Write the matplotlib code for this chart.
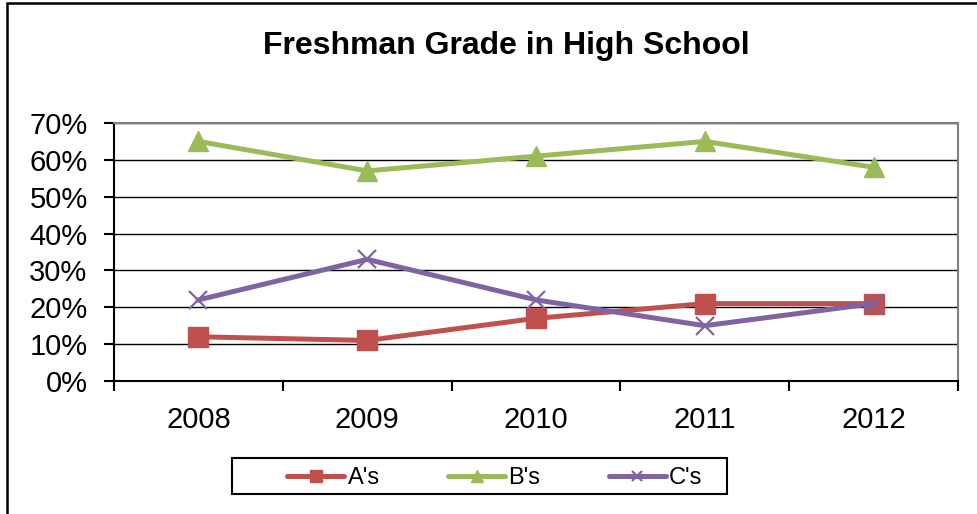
import matplotlib
matplotlib.use("Agg")
import matplotlib.pyplot as plt
from matplotlib.patches import Rectangle
from matplotlib.ticker import FixedLocator, FuncFormatter

# data
years = ["2008", "2009", "2010", "2011", "2012"]
a_grades = [0.12, 0.11, 0.17, 0.21, 0.21]
b_grades = [0.65, 0.57, 0.61, 0.65, 0.58]
c_grades = [0.22, 0.33, 0.22, 0.15, 0.21]

RED = "#C0504D"
GREEN = "#9BBB59"
PURPLE = "#8064A2"

plt.rcParams["font.family"] = ["Liberation Sans", "DejaVu Sans"]

W, H = 977, 514
fig = plt.figure(figsize=(W / 100, H / 100), dpi=100)

# outer chart border (only top and left are visible in the reference)
fig.patches.append(Rectangle((7 / W, -0.1), 1.2, 1.1 - 3 / H, transform=fig.transFigure,
                             fill=False, edgecolor="black", linewidth=1.8))
# legend box
fig.patches.append(Rectangle((232 / W, 1 - 494 / H), 495 / W, 36 / H, transform=fig.transFigure,
                             fill=False, edgecolor="black", linewidth=1.5))

left, right, top, bottom = 114, 958, 123, 381
ax = fig.add_axes([left / W, 1 - bottom / H, (right - left) / W, (bottom - top) / H])

x = list(range(len(years)))
ax.plot(x, a_grades, color=RED, lw=3.6, marker="s", ms=14, label="A's", zorder=3)
ax.plot(x, b_grades, color=GREEN, lw=3.6, marker="^", ms=15, label="B's", zorder=3)
ax.plot(x, c_grades, color=PURPLE, lw=3.6, marker="x", ms=13, mew=1.6, label="C's", zorder=3)

ax.set_xlim(-0.5, len(years) - 0.5)
ax.set_ylim(0, 0.7)
ax.set_yticks([i / 10 for i in range(8)])
ax.yaxis.set_major_formatter(FuncFormatter(lambda v, _: f"{round(v * 100)}%"))
ax.grid(axis="y", color="black", lw=1.0)
ax.set_axisbelow(True)

# category boundaries as ticks, labels in the centre
ax.xaxis.set_major_locator(FixedLocator([i - 0.5 for i in range(len(years) + 1)]))
ax.xaxis.set_major_formatter(FuncFormatter(lambda v, _: ""))
ax.set_xticks(x, minor=True)
ax.set_xticklabels(years, minor=True)
ax.tick_params(axis="x", which="minor", length=0, pad=18, labelsize=21)
ax.tick_params(axis="x", which="major", length=7, width=1.5, direction="out")
ax.tick_params(axis="y", length=7, width=1.5, direction="out", pad=12, labelsize=21)

for side in ("top", "right"):
    ax.spines[side].set_color("#808080")
    ax.spines[side].set_linewidth(1.5)
for side in ("left", "bottom"):
    ax.spines[side].set_color("black")
    ax.spines[side].set_linewidth(1.5)

fig.text(506 / W, 1 - 46 / H, "Freshman Grade in High School", ha="center", va="center",
         fontsize=23, fontweight="bold")

leg = ax.legend(loc="center", bbox_to_anchor=(495 / W, 1 - 478 / H),
                bbox_transform=fig.transFigure, ncol=3, fontsize=17,
                frameon=False, handlelength=2.4, handletextpad=0.15,
                columnspacing=2.9, borderaxespad=0, markerscale=0.6)
for line in leg.get_lines():
    line.set_solid_capstyle("round")

fig.savefig("out.png", dpi=100)
